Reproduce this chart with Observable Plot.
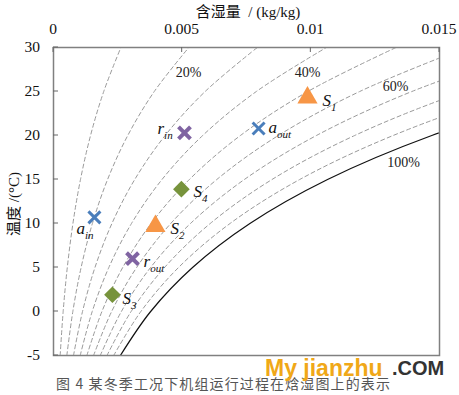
<!DOCTYPE html>
<html>
<head>
<meta charset="utf-8">
<script src="https://cdn.jsdelivr.net/npm/d3@7"></script>
<script src="https://cdn.jsdelivr.net/npm/@observablehq/plot@0.6"></script>
<style>
  body { margin: 0; background: #fff; }
  #chart { position: relative; width: 459px; height: 395px; }
</style>
</head>
<body>
<div id="chart"></div>
<script>
// ---- data ----
const xTicks = [0, 0.005, 0.01, 0.015];
const xTickLabels = ["0", "0.005", "0.01", "0.015"];
const yTicks = [-5, 0, 5, 10, 15, 20, 25, 30];

// relative humidity levels drawn (10% ... 100%)
const rhLevels = [0.1, 0.2, 0.3, 0.4, 0.5, 0.6, 0.7, 0.8, 0.9, 1.0];
// saturation vapour pressure table (Pa) over temperature (°C)
const tempGrid = [-5, 0, 5, 10, 15, 20, 25, 30];
const satPressure = [421.7, 611.2, 872.6, 1228.1, 1705.6, 2339.3, 3169.9, 4246.0];
const atmPressure = 101325;

// RH curve labels
const rhLabelText = ["20%", "40%", "60%", "100%"];
const rhLabelW = [0.00525, 0.00987, 0.01329, 0.01360];
const rhLabelT = [27.2, 27.2, 25.6, 16.9];

// state points
const pointMain = ["a", "a", "r", "r", "S", "S", "S", "S"];
const pointSub = ["in", "out", "in", "out", "1", "2", "3", "4"];
const pointW = [0.00159, 0.00797, 0.00509, 0.00307, 0.00987, 0.00396, 0.00229, 0.00497];
const pointT = [10.7, 20.8, 20.3, 6.0, 24.3, 9.7, 1.9, 13.9];

// ---- derived tables ----
const rhCurves = [];
rhLevels.forEach(phi => {
  tempGrid.forEach((t, i) => {
    const pv = phi * satPressure[i];
    rhCurves.push({phi, t, w: 0.622 * pv / (atmPressure - pv)});
  });
});
const points = pointMain.map((m, i) => ({
  name: m + "_" + pointSub[i], main: m, sub: pointSub[i], w: pointW[i], t: pointT[i]
}));
const rhLabels = rhLabelText.map((s, i) => ({s, w: rhLabelW[i], t: rhLabelT[i]}));

const labelOffsets = {
  a_in: [-18, 11], a_out: [10, -1], r_in: [-27, -4], r_out: [11, 3],
  S_1: [15, 3], S_2: [15, 2], S_3: [10, 4], S_4: [12, 2]
};
const styleFor = {
  a_in: {sym: "times", c: "#4a7ebb"}, a_out: {sym: "times", c: "#4a7ebb"},
  r_in: {sym: "times", c: "#8064a2"}, r_out: {sym: "times", c: "#8064a2"},
  S_1: {sym: "triangle", c: "#f79646"}, S_2: {sym: "triangle", c: "#f79646"},
  S_3: {sym: "diamond2", c: "#77933c"}, S_4: {sym: "diamond2", c: "#77933c"}
};

const serif = "Liberation Serif";
const cjk = "Noto Sans CJK SC";

const marks = [
  Plot.line(rhCurves.filter(d => d.phi < 1), {
    x: "w", y: "t", z: "phi", curve: "catmull-rom",
    stroke: "#9a9a9a", strokeWidth: 1, strokeDasharray: "4,3", clip: true
  }),
  Plot.line(rhCurves.filter(d => d.phi === 1), {
    x: "w", y: "t", curve: "catmull-rom", stroke: "#111", strokeWidth: 1.2, clip: true
  }),
  Plot.text(rhLabels, {x: "w", y: "t", text: "s", fontSize: 14, fill: "#222", fontFamily: serif}),
  Plot.frame({stroke: "#808080", strokeWidth: 1.5})
];

points.forEach(p => {
  const st = styleFor[p.name];
  if (st.sym === "times") {
    marks.push(Plot.dot([p], {x: "w", y: "t", symbol: "times", r: 5.5, stroke: st.c, strokeWidth: p.main === "r" ? 4 : 3}));
  } else {
    marks.push(Plot.dot([p], {x: "w", y: "t", symbol: st.sym, r: st.sym === "triangle" ? 7.5 : 7.5, fill: st.c, stroke: "none"}));
  }
  const [dx, dy] = labelOffsets[p.name];
  marks.push(Plot.text([p], {
    x: "w", y: "t", text: d => d.main + "|" + d.sub, dx, dy, textAnchor: "start",
    fontSize: 17, fontStyle: "italic", fill: "#111", fontFamily: serif
  }));
});

const chart = Plot.plot({
  width: 459, height: 395,
  marginTop: 47, marginBottom: 40, marginLeft: 53, marginRight: 20,
  style: {fontFamily: serif, background: "#fff", color: "#222"},
  x: {domain: [0, 0.015], axis: null},
  y: {domain: [-5, 30], axis: null},
  marks
});

document.getElementById("chart").appendChild(chart);

// subscripts
d3.select(chart).selectAll("text").each(function() {
  const t = this.textContent;
  if (t.includes("|")) {
    const [m, s] = t.split("|");
    const sel = d3.select(this);
    sel.text(m);
    sel.append("tspan").attr("dy", 5).attr("font-size", 11).text(s);
  }
});

// axes drawn with the Plot scales
const sx = chart.scale("x"), sy = chart.scale("y");
const svg = d3.select(chart);
const pxLeft = sx.apply(0), pxRight = sx.apply(0.015), pxTop = sy.apply(30), pxBottom = sy.apply(-5);
const ax = svg.append("g");
function txt(g, x, y, s, size, anchor, family, fill) {
  return g.append("text").attr("x", x).attr("y", y).attr("text-anchor", anchor)
    .attr("font-size", size).attr("font-family", family).attr("fill", fill || "#111")
    .style("font-family", family).text(s);
}
xTicks.forEach((v, i) => {
  const x = sx.apply(v);
  ax.append("line").attr("x1", x).attr("x2", x).attr("y1", pxTop).attr("y2", pxTop + 5).attr("stroke", "#666");
  txt(ax, x, pxTop - 13, xTickLabels[i], 15.5, "middle", serif);
});
yTicks.forEach(v => {
  const y = sy.apply(v);
  ax.append("line").attr("x1", pxLeft).attr("x2", pxLeft + 5).attr("y1", y).attr("y2", y).attr("stroke", "#666");
  txt(ax, pxLeft - 13, y + 5, String(v), 15.5, "end", serif);
});
const xl = ax.append("text").attr("x", 248).attr("y", 17).attr("text-anchor", "middle").attr("font-size", 15).attr("fill", "#111");
xl.append("tspan").style("font-family", cjk).text("含湿量");
xl.append("tspan").style("font-family", serif).text("  / (kg/kg)");
const yl = ax.append("text").attr("transform", `translate(19,${(pxTop + pxBottom) / 2 + 3}) rotate(-90)`)
  .attr("text-anchor", "middle").attr("font-size", 15).attr("fill", "#111");
yl.append("tspan").style("font-family", cjk).text("温度");
yl.append("tspan").style("font-family", serif).text(" /(°C)");

// caption and watermark
txt(svg, 56, 389, "图 4 某冬季工况下机组运行过程在焓湿图上的表示", 14, "start", cjk, "#555")
  .attr("textLength", 334).attr("lengthAdjust", "spacing");
txt(svg, 265, 376, "My jianzhu", 23, "start", "Liberation Sans", "#f0a818").attr("font-weight", "bold");
txt(svg, 392, 375, ".COM", 20, "start", "Liberation Sans", "#333").attr("font-weight", "bold");
</script>
</body>
</html>
